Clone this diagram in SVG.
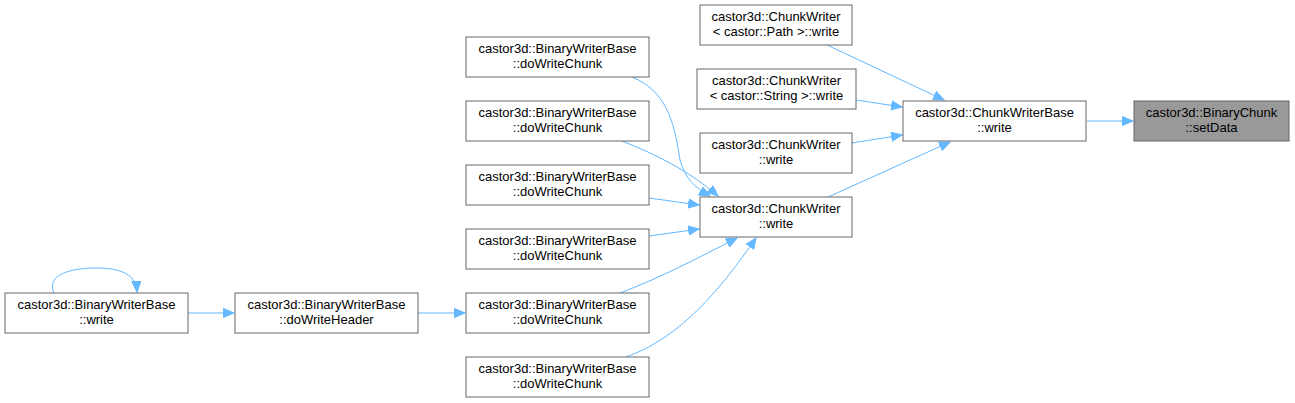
<svg xmlns="http://www.w3.org/2000/svg" width="1295" height="403" viewBox="0 0 1295 403">
<style>
.n rect{fill:#fff;stroke:#666;stroke-width:1}
.h rect{fill:#999;stroke:#666;stroke-width:1}
text{font-family:"Liberation Sans",Arial,sans-serif;font-size:13px;fill:#000;text-anchor:middle}
.e path{fill:none;stroke:#63b8ff;stroke-width:1}
</style>
<defs>
<marker id="a" markerWidth="12" markerHeight="10" refX="11" refY="5" orient="auto" markerUnits="userSpaceOnUse">
<path d="M0.5,0.5 L11,5 L0.5,9.5 Z" fill="#63b8ff" stroke="#63b8ff"/>
</marker>
</defs>
<rect width="1295" height="403" fill="#fff"/>
<g class="e" id="edges">
<path d="M1087,121 L1133,121" marker-end="url(#a)"/>
<path d="M827,45 L944,100" marker-end="url(#a)"/>
<path d="M856,100 L902,107" marker-end="url(#a)"/>
<path d="M852,143 L902,135" marker-end="url(#a)"/>
<path d="M828,197 L950,142" marker-end="url(#a)"/>
<path d="M632,77 C670,92 675,130 680,160 C685,178 695,188 710,196" marker-end="url(#a)"/>
<path d="M622,141 C660,156 690,172 718,196" marker-end="url(#a)"/>
<path d="M649,198 L699,205" marker-end="url(#a)"/>
<path d="M649,236 L699,229" marker-end="url(#a)"/>
<path d="M620,293 C660,278 700,257 737,238" marker-end="url(#a)"/>
<path d="M626,357 C680,338 720,290 756,238" marker-end="url(#a)"/>
<path d="M418,313 L465,313" marker-end="url(#a)"/>
<path d="M188,313 L234,313" marker-end="url(#a)"/>
<path d="M54,293 C46,275 70,268 96,268 C122,268 136,275 137,292" marker-end="url(#a)"/>
</g>
<g id="n_write" class="n"><rect x="5" y="293" width="183" height="40"/><text x="96.5" y="309">castor3d::BinaryWriterBase</text><text x="96.5" y="324">::write</text></g>
<g id="n_header" class="n"><rect x="235" y="293" width="183" height="40"/><text x="326.5" y="309">castor3d::BinaryWriterBase</text><text x="326.5" y="324">::doWriteHeader</text></g>
<g id="n_c1" class="n"><rect x="466" y="37" width="183" height="40"/><text x="557.5" y="53">castor3d::BinaryWriterBase</text><text x="557.5" y="68">::doWriteChunk</text></g>
<g id="n_c2" class="n"><rect x="466" y="101" width="183" height="40"/><text x="557.5" y="117">castor3d::BinaryWriterBase</text><text x="557.5" y="132">::doWriteChunk</text></g>
<g id="n_c3" class="n"><rect x="466" y="165" width="183" height="40"/><text x="557.5" y="181">castor3d::BinaryWriterBase</text><text x="557.5" y="196">::doWriteChunk</text></g>
<g id="n_c4" class="n"><rect x="466" y="229" width="183" height="40"/><text x="557.5" y="245">castor3d::BinaryWriterBase</text><text x="557.5" y="260">::doWriteChunk</text></g>
<g id="n_c5" class="n"><rect x="466" y="293" width="183" height="40"/><text x="557.5" y="309">castor3d::BinaryWriterBase</text><text x="557.5" y="324">::doWriteChunk</text></g>
<g id="n_c6" class="n"><rect x="466" y="357" width="183" height="40"/><text x="557.5" y="373">castor3d::BinaryWriterBase</text><text x="557.5" y="388">::doWriteChunk</text></g>
<g id="n_path" class="n"><rect x="700" y="5" width="152" height="40"/><text x="776" y="21">castor3d::ChunkWriter</text><text x="776" y="36">&lt; castor::Path &gt;::write</text></g>
<g id="n_string" class="n"><rect x="697" y="69" width="159" height="40"/><text x="776.5" y="85">castor3d::ChunkWriter</text><text x="776.5" y="100">&lt; castor::String &gt;::write</text></g>
<g id="n_cw1" class="n"><rect x="700" y="133" width="152" height="40"/><text x="776" y="149">castor3d::ChunkWriter</text><text x="776" y="164">::write</text></g>
<g id="n_cw2" class="n"><rect x="700" y="197" width="152" height="40"/><text x="776" y="213">castor3d::ChunkWriter</text><text x="776" y="228">::write</text></g>
<g id="n_cwb" class="n"><rect x="903" y="101" width="183" height="40"/><text x="994.5" y="117">castor3d::ChunkWriterBase</text><text x="994.5" y="132">::write</text></g>
<g id="n_set" class="h"><rect x="1134" y="101" width="155" height="40"/><text x="1211.5" y="117">castor3d::BinaryChunk</text><text x="1211.5" y="132">::setData</text></g>
</svg>
